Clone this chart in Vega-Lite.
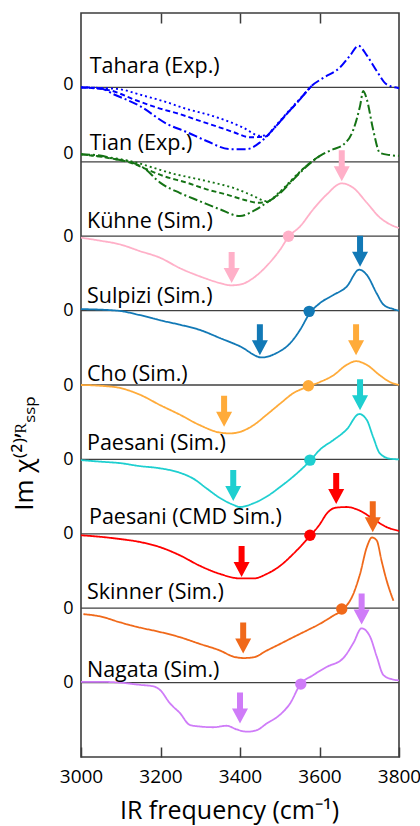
{
  "$schema": "https://vega.github.io/schema/vega-lite/v6.json",
  "autosize": "none",
  "width": 318,
  "height": 744,
  "padding": {"left": 81, "top": 13, "right": 21, "bottom": 69},
  "background": "white",
  "config": {
    "view": {"stroke": "#3c3c3c", "strokeWidth": 1.6},
    "font": "Open Sans",
    "axis": {"labelFont": "Open Sans", "titleFont": "Open Sans", "labelColor": "#000", "titleColor": "#000", "titleFontWeight": "normal", "grid": false, "domain": false}
  },
  "resolve": {"axis": {"x": "independent", "y": "independent"}},
  "datasets": {
    "curves": [
      {"g":"Tahara","k":"main","x":3000,"y":8.00},{"g":"Tahara","k":"main","x":3048,"y":7.99},{"g":"Tahara","k":"main","x":3081,"y":7.91},{"g":"Tahara","k":"main","x":3148,"y":7.75},{"g":"Tahara","k":"main","x":3216,"y":7.51},{"g":"Tahara","k":"main","x":3266,"y":7.40},{"g":"Tahara","k":"main","x":3316,"y":7.28},{"g":"Tahara","k":"main","x":3375,"y":7.17},{"g":"Tahara","k":"main","x":3417,"y":7.17},{"g":"Tahara","k":"main","x":3450,"y":7.26},{"g":"Tahara","k":"main","x":3484,"y":7.44},{"g":"Tahara","k":"main","x":3517,"y":7.64},{"g":"Tahara","k":"main","x":3551,"y":7.84},{"g":"Tahara","k":"main","x":3580,"y":8.02},{"g":"Tahara","k":"main","x":3610,"y":8.13},{"g":"Tahara","k":"main","x":3652,"y":8.27},{"g":"Tahara","k":"main","x":3677,"y":8.43},{"g":"Tahara","k":"main","x":3698,"y":8.56},{"g":"Tahara","k":"main","x":3719,"y":8.43},{"g":"Tahara","k":"main","x":3744,"y":8.22},{"g":"Tahara","k":"main","x":3769,"y":8.04},{"g":"Tahara","k":"main","x":3800,"y":7.99},
      {"g":"Tahara","k":"dash","x":3000,"y":8.00},{"g":"Tahara","k":"dash","x":3073,"y":7.96},{"g":"Tahara","k":"dash","x":3132,"y":7.84},{"g":"Tahara","k":"dash","x":3190,"y":7.73},{"g":"Tahara","k":"dash","x":3249,"y":7.64},{"g":"Tahara","k":"dash","x":3299,"y":7.55},{"g":"Tahara","k":"dash","x":3350,"y":7.46},{"g":"Tahara","k":"dash","x":3383,"y":7.40},{"g":"Tahara","k":"dash","x":3425,"y":7.33},{"g":"Tahara","k":"dash","x":3465,"y":7.34},{"g":"Tahara","k":"dash","x":3484,"y":7.44},{"g":"Tahara","k":"dash","x":3517,"y":7.64},{"g":"Tahara","k":"dash","x":3551,"y":7.84},{"g":"Tahara","k":"dash","x":3580,"y":8.02},
      {"g":"Tahara","k":"dot","x":3000,"y":8.00},{"g":"Tahara","k":"dot","x":3090,"y":7.98},{"g":"Tahara","k":"dot","x":3157,"y":7.89},{"g":"Tahara","k":"dot","x":3216,"y":7.80},{"g":"Tahara","k":"dot","x":3266,"y":7.71},{"g":"Tahara","k":"dot","x":3316,"y":7.64},{"g":"Tahara","k":"dot","x":3367,"y":7.55},{"g":"Tahara","k":"dot","x":3408,"y":7.46},{"g":"Tahara","k":"dot","x":3450,"y":7.35},{"g":"Tahara","k":"dot","x":3470,"y":7.36},{"g":"Tahara","k":"dot","x":3484,"y":7.45},{"g":"Tahara","k":"dot","x":3517,"y":7.65},{"g":"Tahara","k":"dot","x":3551,"y":7.85},{"g":"Tahara","k":"dot","x":3580,"y":8.02},
      {"g":"Tian","k":"main","x":3000,"y":7.10},{"g":"Tian","k":"main","x":3048,"y":7.085},{"g":"Tian","k":"main","x":3081,"y":7.04},{"g":"Tian","k":"main","x":3123,"y":7.00},{"g":"Tian","k":"main","x":3157,"y":6.92},{"g":"Tian","k":"main","x":3199,"y":6.72},{"g":"Tian","k":"main","x":3249,"y":6.58},{"g":"Tian","k":"main","x":3299,"y":6.47},{"g":"Tian","k":"main","x":3350,"y":6.36},{"g":"Tian","k":"main","x":3400,"y":6.27},{"g":"Tian","k":"main","x":3434,"y":6.34},{"g":"Tian","k":"main","x":3467,"y":6.45},{"g":"Tian","k":"main","x":3501,"y":6.58},{"g":"Tian","k":"main","x":3534,"y":6.76},{"g":"Tian","k":"main","x":3568,"y":6.94},{"g":"Tian","k":"main","x":3601,"y":7.08},{"g":"Tian","k":"main","x":3635,"y":7.17},{"g":"Tian","k":"main","x":3660,"y":7.23},{"g":"Tian","k":"main","x":3685,"y":7.43},{"g":"Tian","k":"main","x":3702,"y":7.75},{"g":"Tian","k":"main","x":3710,"y":7.95},{"g":"Tian","k":"main","x":3719,"y":7.84},{"g":"Tian","k":"main","x":3735,"y":7.43},{"g":"Tian","k":"main","x":3752,"y":7.12},{"g":"Tian","k":"main","x":3777,"y":7.09},{"g":"Tian","k":"main","x":3800,"y":7.08},
      {"g":"Tian","k":"dash","x":3000,"y":7.10},{"g":"Tian","k":"dash","x":3081,"y":7.04},{"g":"Tian","k":"dash","x":3123,"y":6.99},{"g":"Tian","k":"dash","x":3165,"y":6.90},{"g":"Tian","k":"dash","x":3207,"y":6.81},{"g":"Tian","k":"dash","x":3266,"y":6.72},{"g":"Tian","k":"dash","x":3316,"y":6.63},{"g":"Tian","k":"dash","x":3366,"y":6.56},{"g":"Tian","k":"dash","x":3417,"y":6.48},{"g":"Tian","k":"dash","x":3445,"y":6.45},{"g":"Tian","k":"dash","x":3467,"y":6.46},{"g":"Tian","k":"dash","x":3501,"y":6.59},{"g":"Tian","k":"dash","x":3534,"y":6.77},{"g":"Tian","k":"dash","x":3568,"y":6.95},{"g":"Tian","k":"dash","x":3601,"y":7.08},
      {"g":"Tian","k":"dot","x":3000,"y":7.10},{"g":"Tian","k":"dot","x":3081,"y":7.05},{"g":"Tian","k":"dot","x":3132,"y":7.00},{"g":"Tian","k":"dot","x":3182,"y":6.92},{"g":"Tian","k":"dot","x":3232,"y":6.84},{"g":"Tian","k":"dot","x":3283,"y":6.78},{"g":"Tian","k":"dot","x":3333,"y":6.72},{"g":"Tian","k":"dot","x":3383,"y":6.65},{"g":"Tian","k":"dot","x":3434,"y":6.54},{"g":"Tian","k":"dot","x":3467,"y":6.47},{"g":"Tian","k":"dot","x":3501,"y":6.60},{"g":"Tian","k":"dot","x":3534,"y":6.78},{"g":"Tian","k":"dot","x":3568,"y":6.95},{"g":"Tian","k":"dot","x":3601,"y":7.08},
      {"g":"Kuhne","k":"solid","x":3000,"y":5.98},{"g":"Kuhne","k":"solid","x":3048,"y":5.94},{"g":"Kuhne","k":"solid","x":3098,"y":5.89},{"g":"Kuhne","k":"solid","x":3148,"y":5.80},{"g":"Kuhne","k":"solid","x":3199,"y":5.71},{"g":"Kuhne","k":"solid","x":3249,"y":5.57},{"g":"Kuhne","k":"solid","x":3299,"y":5.46},{"g":"Kuhne","k":"solid","x":3350,"y":5.37},{"g":"Kuhne","k":"solid","x":3377,"y":5.34},{"g":"Kuhne","k":"solid","x":3400,"y":5.35},{"g":"Kuhne","k":"solid","x":3434,"y":5.44},{"g":"Kuhne","k":"solid","x":3467,"y":5.60},{"g":"Kuhne","k":"solid","x":3501,"y":5.82},{"g":"Kuhne","k":"solid","x":3522,"y":5.99},{"g":"Kuhne","k":"solid","x":3551,"y":6.13},{"g":"Kuhne","k":"solid","x":3584,"y":6.36},{"g":"Kuhne","k":"solid","x":3618,"y":6.56},{"g":"Kuhne","k":"solid","x":3656,"y":6.71},{"g":"Kuhne","k":"solid","x":3685,"y":6.65},{"g":"Kuhne","k":"solid","x":3719,"y":6.45},{"g":"Kuhne","k":"solid","x":3752,"y":6.25},{"g":"Kuhne","k":"solid","x":3777,"y":6.16},{"g":"Kuhne","k":"solid","x":3800,"y":6.11},
      {"g":"Sulpizi","k":"solid","x":3000,"y":5.02},{"g":"Sulpizi","k":"solid","x":3090,"y":5.00},{"g":"Sulpizi","k":"solid","x":3148,"y":4.94},{"g":"Sulpizi","k":"solid","x":3199,"y":4.87},{"g":"Sulpizi","k":"solid","x":3249,"y":4.81},{"g":"Sulpizi","k":"solid","x":3299,"y":4.74},{"g":"Sulpizi","k":"solid","x":3350,"y":4.63},{"g":"Sulpizi","k":"solid","x":3400,"y":4.52},{"g":"Sulpizi","k":"solid","x":3455,"y":4.37},{"g":"Sulpizi","k":"solid","x":3492,"y":4.43},{"g":"Sulpizi","k":"solid","x":3526,"y":4.56},{"g":"Sulpizi","k":"solid","x":3551,"y":4.74},{"g":"Sulpizi","k":"solid","x":3576,"y":4.97},{"g":"Sulpizi","k":"solid","x":3601,"y":5.10},{"g":"Sulpizi","k":"solid","x":3635,"y":5.21},{"g":"Sulpizi","k":"solid","x":3668,"y":5.32},{"g":"Sulpizi","k":"solid","x":3700,"y":5.55},{"g":"Sulpizi","k":"solid","x":3719,"y":5.48},{"g":"Sulpizi","k":"solid","x":3744,"y":5.23},{"g":"Sulpizi","k":"solid","x":3761,"y":5.08},{"g":"Sulpizi","k":"solid","x":3786,"y":5.02},{"g":"Sulpizi","k":"solid","x":3800,"y":5.00},
      {"g":"Cho","k":"solid","x":3000,"y":4.00},{"g":"Cho","k":"solid","x":3048,"y":3.99},{"g":"Cho","k":"solid","x":3098,"y":3.96},{"g":"Cho","k":"solid","x":3148,"y":3.87},{"g":"Cho","k":"solid","x":3199,"y":3.73},{"g":"Cho","k":"solid","x":3249,"y":3.60},{"g":"Cho","k":"solid","x":3299,"y":3.46},{"g":"Cho","k":"solid","x":3350,"y":3.36},{"g":"Cho","k":"solid","x":3375,"y":3.35},{"g":"Cho","k":"solid","x":3400,"y":3.37},{"g":"Cho","k":"solid","x":3434,"y":3.46},{"g":"Cho","k":"solid","x":3467,"y":3.60},{"g":"Cho","k":"solid","x":3501,"y":3.75},{"g":"Cho","k":"solid","x":3534,"y":3.89},{"g":"Cho","k":"solid","x":3572,"y":3.98},{"g":"Cho","k":"solid","x":3601,"y":4.04},{"g":"Cho","k":"solid","x":3635,"y":4.13},{"g":"Cho","k":"solid","x":3668,"y":4.27},{"g":"Cho","k":"solid","x":3692,"y":4.32},{"g":"Cho","k":"solid","x":3719,"y":4.27},{"g":"Cho","k":"solid","x":3752,"y":4.13},{"g":"Cho","k":"solid","x":3777,"y":4.04},{"g":"Cho","k":"solid","x":3800,"y":4.00},
      {"g":"Paesani","k":"solid","x":3000,"y":2.99},{"g":"Paesani","k":"solid","x":3048,"y":2.97},{"g":"Paesani","k":"solid","x":3098,"y":2.95},{"g":"Paesani","k":"solid","x":3148,"y":2.91},{"g":"Paesani","k":"solid","x":3199,"y":2.88},{"g":"Paesani","k":"solid","x":3249,"y":2.82},{"g":"Paesani","k":"solid","x":3283,"y":2.74},{"g":"Paesani","k":"solid","x":3316,"y":2.61},{"g":"Paesani","k":"solid","x":3350,"y":2.48},{"g":"Paesani","k":"solid","x":3383,"y":2.39},{"g":"Paesani","k":"solid","x":3400,"y":2.36},{"g":"Paesani","k":"solid","x":3434,"y":2.41},{"g":"Paesani","k":"solid","x":3467,"y":2.50},{"g":"Paesani","k":"solid","x":3501,"y":2.63},{"g":"Paesani","k":"solid","x":3534,"y":2.77},{"g":"Paesani","k":"solid","x":3576,"y":2.98},{"g":"Paesani","k":"solid","x":3601,"y":3.13},{"g":"Paesani","k":"solid","x":3635,"y":3.26},{"g":"Paesani","k":"solid","x":3668,"y":3.40},{"g":"Paesani","k":"solid","x":3700,"y":3.61},{"g":"Paesani","k":"solid","x":3719,"y":3.53},{"g":"Paesani","k":"solid","x":3735,"y":3.30},{"g":"Paesani","k":"solid","x":3752,"y":3.08},{"g":"Paesani","k":"solid","x":3777,"y":3.01},{"g":"Paesani","k":"solid","x":3800,"y":3.00},
      {"g":"CMD","k":"solid","x":3000,"y":1.98},{"g":"CMD","k":"solid","x":3048,"y":1.96},{"g":"CMD","k":"solid","x":3098,"y":1.93},{"g":"CMD","k":"solid","x":3148,"y":1.89},{"g":"CMD","k":"solid","x":3199,"y":1.82},{"g":"CMD","k":"solid","x":3249,"y":1.71},{"g":"CMD","k":"solid","x":3299,"y":1.57},{"g":"CMD","k":"solid","x":3350,"y":1.46},{"g":"CMD","k":"solid","x":3400,"y":1.40},{"g":"CMD","k":"solid","x":3434,"y":1.40},{"g":"CMD","k":"solid","x":3467,"y":1.46},{"g":"CMD","k":"solid","x":3501,"y":1.57},{"g":"CMD","k":"solid","x":3534,"y":1.73},{"g":"CMD","k":"solid","x":3576,"y":1.97},{"g":"CMD","k":"solid","x":3601,"y":2.13},{"g":"CMD","k":"solid","x":3618,"y":2.27},{"g":"CMD","k":"solid","x":3640,"y":2.35},{"g":"CMD","k":"solid","x":3668,"y":2.36},{"g":"CMD","k":"solid","x":3702,"y":2.31},{"g":"CMD","k":"solid","x":3735,"y":2.20},{"g":"CMD","k":"solid","x":3769,"y":2.09},{"g":"CMD","k":"solid","x":3800,"y":2.04},
      {"g":"Skinner","k":"solid","x":3006,"y":0.92},{"g":"Skinner","k":"solid","x":3048,"y":0.89},{"g":"Skinner","k":"solid","x":3098,"y":0.81},{"g":"Skinner","k":"solid","x":3148,"y":0.74},{"g":"Skinner","k":"solid","x":3199,"y":0.68},{"g":"Skinner","k":"solid","x":3249,"y":0.61},{"g":"Skinner","k":"solid","x":3299,"y":0.52},{"g":"Skinner","k":"solid","x":3350,"y":0.43},{"g":"Skinner","k":"solid","x":3383,"y":0.35},{"g":"Skinner","k":"solid","x":3408,"y":0.33},{"g":"Skinner","k":"solid","x":3434,"y":0.34},{"g":"Skinner","k":"solid","x":3467,"y":0.43},{"g":"Skinner","k":"solid","x":3501,"y":0.52},{"g":"Skinner","k":"solid","x":3534,"y":0.61},{"g":"Skinner","k":"solid","x":3568,"y":0.70},{"g":"Skinner","k":"solid","x":3601,"y":0.79},{"g":"Skinner","k":"solid","x":3635,"y":0.90},{"g":"Skinner","k":"solid","x":3656,"y":0.97},{"g":"Skinner","k":"solid","x":3685,"y":1.19},{"g":"Skinner","k":"solid","x":3702,"y":1.46},{"g":"Skinner","k":"solid","x":3719,"y":1.82},{"g":"Skinner","k":"solid","x":3732,"y":1.95},{"g":"Skinner","k":"solid","x":3744,"y":1.91},{"g":"Skinner","k":"solid","x":3756,"y":1.64},{"g":"Skinner","k":"solid","x":3769,"y":1.37},{"g":"Skinner","k":"solid","x":3786,"y":1.10},
      {"g":"Nagata","k":"solid","x":3000,"y":0.01},{"g":"Nagata","k":"solid","x":3048,"y":0.01},{"g":"Nagata","k":"solid","x":3098,"y":0.00},{"g":"Nagata","k":"solid","x":3148,"y":-0.03},{"g":"Nagata","k":"solid","x":3182,"y":-0.05},{"g":"Nagata","k":"solid","x":3199,"y":-0.10},{"g":"Nagata","k":"solid","x":3224,"y":-0.28},{"g":"Nagata","k":"solid","x":3249,"y":-0.41},{"g":"Nagata","k":"solid","x":3274,"y":-0.57},{"g":"Nagata","k":"solid","x":3299,"y":-0.59},{"g":"Nagata","k":"solid","x":3333,"y":-0.60},{"g":"Nagata","k":"solid","x":3366,"y":-0.58},{"g":"Nagata","k":"solid","x":3392,"y":-0.63},{"g":"Nagata","k":"solid","x":3417,"y":-0.66},{"g":"Nagata","k":"solid","x":3442,"y":-0.64},{"g":"Nagata","k":"solid","x":3467,"y":-0.55},{"g":"Nagata","k":"solid","x":3501,"y":-0.43},{"g":"Nagata","k":"solid","x":3526,"y":-0.28},{"g":"Nagata","k":"solid","x":3551,"y":-0.03},{"g":"Nagata","k":"solid","x":3584,"y":0.10},{"g":"Nagata","k":"solid","x":3618,"y":0.21},{"g":"Nagata","k":"solid","x":3660,"y":0.33},{"g":"Nagata","k":"solid","x":3685,"y":0.53},{"g":"Nagata","k":"solid","x":3706,"y":0.73},{"g":"Nagata","k":"solid","x":3727,"y":0.62},{"g":"Nagata","k":"solid","x":3744,"y":0.35},{"g":"Nagata","k":"solid","x":3761,"y":0.10},{"g":"Nagata","k":"solid","x":3786,"y":0.04},{"g":"Nagata","k":"solid","x":3800,"y":0.03}
    ],
    "arrows": [
      {"g":"Kuhne","x":3656,"y":6.74},{"g":"Kuhne","x":3379,"y":5.37},
      {"g":"Sulpizi","x":3702,"y":5.59},{"g":"Sulpizi","x":3450,"y":4.40},
      {"g":"Cho","x":3692,"y":4.40},{"g":"Cho","x":3360,"y":3.44},
      {"g":"Paesani","x":3702,"y":3.66},{"g":"Paesani","x":3383,"y":2.44},
      {"g":"CMD","x":3642,"y":2.40},{"g":"CMD","x":3404,"y":1.42},
      {"g":"Skinner","x":3734,"y":2.02},{"g":"Skinner","x":3408,"y":0.39},
      {"g":"Nagata","x":3706,"y":0.78},{"g":"Nagata","x":3400,"y":-0.55}
    ],
    "dots": [
      {"g":"Kuhne","x":3522,"y":6.0},{"g":"Sulpizi","x":3574,"y":4.99},{"g":"Cho","x":3572,"y":3.99},{"g":"Paesani","x":3576,"y":2.99},{"g":"CMD","x":3576,"y":1.98},{"g":"Skinner","x":3656,"y":0.99},{"g":"Nagata","x":3553,"y":-0.02}
    ],
    "labels": [
      {"n":"Tahara (Exp.)","x":3022,"y":8.19},{"n":"Tian (Exp.)","x":3022,"y":7.16},{"n":"Kühne (Sim.)","x":3015,"y":6.11},{"n":"Sulpizi (Sim.)","x":3015,"y":5.10},{"n":"Cho (Sim.)","x":3015,"y":4.06},{"n":"Paesani (Sim.)","x":3015,"y":3.12},{"n":"Paesani (CMD Sim.)","x":3020,"y":2.13},{"n":"Skinner (Sim.)","x":3015,"y":1.13},{"n":"Nagata (Sim.)","x":3015,"y":0.08}
    ],
    "zeros": [{"b":0},{"b":1},{"b":2},{"b":3},{"b":4},{"b":5},{"b":6},{"b":7},{"b":8}]
  },
  "layer": [
    {
      "data": {"name": "zeros"},
      "mark": {"type": "rule", "color": "#404040", "strokeWidth": 1.3},
      "encoding": {
        "y": {"field": "b", "type": "quantitative", "scale": {"domain": [-1, 9], "nice": false, "zero": false}, "axis": null}
      }
    },
    {
      "data": {"name": "curves"},
      "mark": {"type": "line", "interpolate": "monotone"},
      "encoding": {
        "x": {"field": "x", "type": "quantitative", "scale": {"domain": [3000, 3800], "nice": false, "zero": false},
          "axis": {"orient": "bottom", "values": [3000, 3200, 3400, 3600, 3800], "format": "d", "labelFlush": false, "labelOverlap": false, "tickSize": -10, "tickWidth": 1.5, "tickColor": "#3c3c3c", "labelFontSize": 19, "labelPadding": 20,
            "title": "IR frequency (cm⁻¹)", "titleFontSize": 25, "titleX": 148, "titleY": 61, "titleAlign": "center", "titleBaseline": "alphabetic"}},
        "y": {"field": "y", "type": "quantitative", "scale": {"domain": [-1, 9], "nice": false, "zero": false},
          "axis": {"orient": "left", "values": [0, 1, 2, 3, 4, 5, 6, 7.11, 8.04], "labelExpr": "'0'", "labelOverlap": false, "ticks": false, "labelFontSize": 18, "labelPadding": 8,
            "title": "Im χ⁽²⁾ʼᴿₛₛₚ", "titleFontSize": 26, "titleAngle": 270, "titleX": -57, "titleY": 440, "titleAlign": "center", "titleBaseline": "middle"}},
        "color": {"field": "g", "type": "nominal", "legend": null,
          "scale": {"domain": ["Tahara","Tian","Kuhne","Sulpizi","Cho","Paesani","CMD","Skinner","Nagata"],
                    "range": ["#0000ff","#157315","#ffb0c8","#1279b6","#ffab3a","#1ecfd0","#ff0000","#f0691a","#cf7cf8"]}},
        "strokeDash": {"field": "k", "type": "nominal", "legend": null,
          "scale": {"domain": ["main","dash","dot","solid"], "range": [[9,3,2,3],[5,3],[2,3],[1,0]]}},
        "strokeWidth": {"field": "k", "type": "nominal", "legend": null,
          "scale": {"domain": ["main","dash","dot","solid"], "range": [2,1.8,1.8,1.5]}}
      }
    },
    {
      "data": {"name": "dots"},
      "mark": {"type": "point", "shape": "circle", "filled": true, "size": 130, "opacity": 1},
      "encoding": {
        "x": {"field": "x", "type": "quantitative", "scale": {"domain": [3000, 3800], "nice": false, "zero": false},
          "axis": {"orient": "top", "values": [3200, 3400, 3600], "labels": false, "tickSize": -10, "tickWidth": 1.5, "tickColor": "#3c3c3c", "title": null}},
        "y": {"field": "y", "type": "quantitative", "scale": {"domain": [-1, 9], "nice": false, "zero": false}, "axis": null},
        "color": {"field": "g", "type": "nominal", "legend": null}
      }
    },
    {
      "data": {"name": "arrows"},
      "mark": {"type": "point", "shape": "M-3,-31L3,-31L3,-15L8,-15L0,0L-8,-15L-3,-15Z", "filled": true, "size": 4, "opacity": 1, "strokeWidth": 0},
      "encoding": {
        "x": {"field": "x", "type": "quantitative", "scale": {"domain": [3000, 3800], "nice": false, "zero": false}, "axis": null},
        "y": {"field": "y", "type": "quantitative", "scale": {"domain": [-1, 9], "nice": false, "zero": false}, "axis": null},
        "color": {"field": "g", "type": "nominal", "legend": null}
      }
    },
    {
      "data": {"name": "labels"},
      "mark": {"type": "text", "align": "left", "baseline": "alphabetic", "font": "Open Sans", "fontSize": 21.5, "color": "#000"},
      "encoding": {
        "x": {"field": "x", "type": "quantitative", "scale": {"domain": [3000, 3800], "nice": false, "zero": false}, "axis": null},
        "y": {"field": "y", "type": "quantitative", "scale": {"domain": [-1, 9], "nice": false, "zero": false}, "axis": null},
        "text": {"field": "n"}
      }
    }
  ]
}
